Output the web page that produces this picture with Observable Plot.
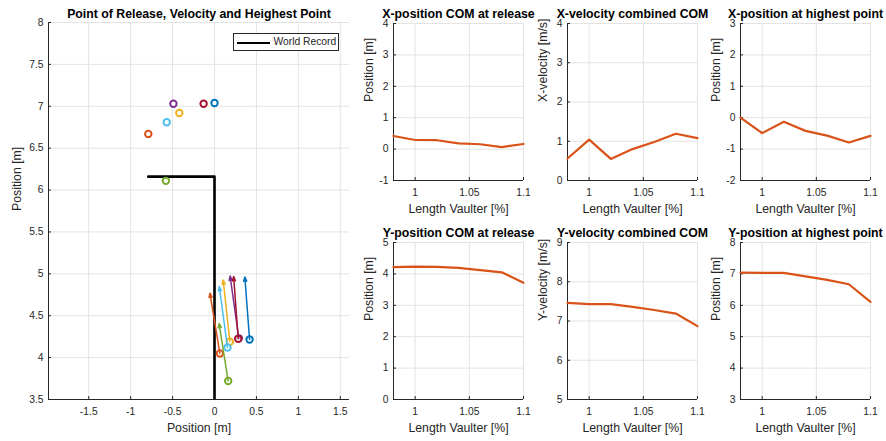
<!DOCTYPE html>
<html>
<head>
<meta charset="utf-8">
<script src="https://cdn.jsdelivr.net/npm/d3@7"></script>
<script src="https://cdn.jsdelivr.net/npm/@observablehq/plot@0.6"></script>
<style>
  html, body { margin: 0; padding: 0; background: #ffffff; }
  #fig { position: relative; width: 886px; height: 441px; overflow: hidden; background: #fff; font-family: "Liberation Sans", Arial, Helvetica, sans-serif; }
  #fig svg { position: absolute; overflow: visible; }
  .legend { position: absolute; border: 1px solid #262626; background: #fff; box-sizing: border-box; font-size: 10.3px; color: #262626; }
</style>
</head>
<body>
<div id="fig"></div>
<script>
// ---------- data ----------
const lengths = [0.98, 1.0, 1.02, 1.04, 1.06, 1.08, 1.1];
const seriesColors = ["#0072BD", "#7E2F8E", "#A2142F", "#EDB120", "#4DBEEE", "#D95319", "#77AC30"];
const xRelease = [0.418, 0.29, 0.283, 0.183, 0.155, 0.064, 0.163];
const yRelease = [4.216, 4.23, 4.224, 4.19, 4.12, 4.05, 3.72];
const xVelocity = [0.56, 1.04, 0.55, 0.80, 0.98, 1.19, 1.08];
const yVelocity = [7.46, 7.43, 7.43, 7.36, 7.28, 7.19, 6.87];
const xHighest = [0.0, -0.49, -0.13, -0.42, -0.57, -0.79, -0.58];
const yHighest = [7.04, 7.03, 7.03, 6.92, 6.81, 6.67, 6.11];
const quiverScale = 0.1;
const worldRecordX = [-0.79, 0, 0];
const worldRecordY = [6.16, 6.16, 3.5];
const worldRecordLabel = "World Record";

const leftXTicks = [-1.5, -1, -0.5, 0, 0.5, 1, 1.5];
const leftYTicks = [3.5, 4, 4.5, 5, 5.5, 6, 6.5, 7, 7.5, 8];
const leftXDomain = [-1.98, 1.61];
const leftYDomain = [3.5, 8];
const lengthTicks = [1, 1.05, 1.1];
const lengthDomain = [0.98, 1.1];

// ---------- styles ----------
const gridColor = "#e3e3e3";
const axisColor = "#262626";
const tickFont = 10.3, labelFont = 12.3, titleFont = 12.3;
const fmt = d => String(d);
const fig = document.getElementById("fig");
const baseStyle = { fontFamily: "'Liberation Sans', Arial, Helvetica, sans-serif", fontSize: tickFont + "px", color: "#262626", background: "transparent", overflow: "visible" };

function place(svg, left, top) {
  svg.style.left = left + "px";
  svg.style.top = top + "px";
  fig.appendChild(svg);
}

function axesMarks(xTicks, yTicks, xDom, yDom, xPad, yPad) {
  return [
    Plot.gridX(xTicks, { stroke: gridColor, strokeOpacity: 1 }),
    Plot.gridY(yTicks, { stroke: gridColor, strokeOpacity: 1 }),
    Plot.axisX(xTicks, { tickSize: 0, tickPadding: xPad, tickFormat: fmt, label: null, fontSize: tickFont, fill: axisColor }),
    Plot.axisY(yTicks, { tickSize: 0, tickPadding: yPad, tickFormat: fmt, label: null, fontSize: tickFont, fill: axisColor }),
    Plot.axisX(xTicks, { anchor: "bottom", tickSize: -3, tickFormat: () => "", label: null, stroke: axisColor }),
    Plot.axisY(yTicks, { anchor: "left", tickSize: -3, tickFormat: () => "", label: null, stroke: axisColor }),
    Plot.ruleX([xDom[0]], { stroke: axisColor, strokeWidth: 1 }),
    Plot.ruleY([yDom[0]], { stroke: axisColor, strokeWidth: 1 })
  ];
}

// ---------- left plot ----------
const pts = lengths.map((l, i) => ({
  l, c: seriesColors[i],
  xr: xRelease[i], yr: yRelease[i],
  xt: xRelease[i] - quiverScale * xVelocity[i],
  yt: yRelease[i] + quiverScale * yVelocity[i],
  xh: xHighest[i], yh: yHighest[i]
}));
const wr = worldRecordX.map((x, i) => ({ x, y: worldRecordY[i] }));

const leftPlot = Plot.plot({
  width: 360, height: 441,
  marginLeft: 48, marginRight: 11, marginTop: 22, marginBottom: 42,
  x: { domain: leftXDomain },
  y: { domain: leftYDomain },
  style: baseStyle,
  marks: [
    ...axesMarks(leftXTicks, leftYTicks, leftXDomain, leftYDomain, 8.5, 5),
    Plot.line(wr, { x: "x", y: "y", stroke: "#000", strokeWidth: 2.6, clip: true }),
    Plot.dot(pts, { x: "xh", y: "yh", r: 3.2, stroke: "c", fill: "#fff", strokeWidth: 2 }),
    Plot.dot(pts, { x: "xr", y: "yr", r: 3.2, stroke: "c", fill: "#fff", strokeWidth: 2 }),
    Plot.arrow(pts, { x1: "xr", y1: "yr", x2: "xt", y2: "yt", stroke: "c", strokeWidth: 1.5, headLength: 4.5, headAngle: 40 }),
    Plot.text(["Point of Release, Velocity and Heighest Point"], { frameAnchor: "top", dy: -8, fontWeight: "bold", fontSize: titleFont, fill: "#000", lineAnchor: "middle" }),
    Plot.text(["Position [m]"], { frameAnchor: "bottom", dy: 29, fontSize: labelFont, fill: axisColor, lineAnchor: "middle" }),
    Plot.text(["Position [m]"], { frameAnchor: "left", dx: -31, rotate: -90, fontSize: labelFont, fill: axisColor, lineAnchor: "middle" })
  ]
});
place(leftPlot, 0, 0);

// legend
const legend = document.createElement("div");
legend.className = "legend";
legend.style.left = "232.5px"; legend.style.top = "33px";
legend.style.width = "106px"; legend.style.height = "18px";
legend.innerHTML = `<span style="position:absolute;left:3.5px;top:7.5px;width:33px;height:2.6px;background:#000"></span><span style="position:absolute;left:40px;top:2px;line-height:12px;white-space:nowrap">${worldRecordLabel}</span>`;
fig.appendChild(legend);

// ---------- small panels ----------
const lineColor = "#D95319";
function panel(values, opt) {
  const mL = 46, mR = 16, mT = 25, mB = 42;
  const fw = 130, fh = 157;
  const data = lengths.map((l, i) => ({ l, v: values[i] }));
  const svg = Plot.plot({
    width: mL + fw + mR, height: mT + fh + mB,
    marginLeft: mL, marginRight: mR, marginTop: mT, marginBottom: mB,
    x: { domain: lengthDomain },
    y: { domain: opt.yDomain },
    style: baseStyle,
    marks: [
      ...axesMarks(lengthTicks, opt.yTicks, lengthDomain, opt.yDomain, 8.5, 5),
      Plot.line(data, { x: "l", y: "v", stroke: lineColor, strokeWidth: 2.2 }),
      Plot.text([opt.title], { frameAnchor: "top", dy: -9.3, fontWeight: "bold", fontSize: titleFont, fill: "#000", lineAnchor: "middle" }),
      Plot.text(["Length Vaulter [%]"], { frameAnchor: "bottom", dy: 29, fontSize: labelFont, fill: axisColor, lineAnchor: "middle" }),
      Plot.text([opt.ylabel], { frameAnchor: "left", dx: -24.5, rotate: -90, fontSize: labelFont, fill: axisColor, lineAnchor: "middle" })
    ]
  });
  place(svg, opt.fl - mL, opt.ft - mT);
}

const topRow = 23.3, bottomRow = 241.7;
const col = [393.3, 566.7, 740];

panel(xRelease, { title: "X-position COM at release", ylabel: "Position [m]", yDomain: [-1, 4], yTicks: [-1, 0, 1, 2, 3, 4], fl: col[0], ft: topRow });
panel(xVelocity, { title: "X-velocity combined COM", ylabel: "X-velocity [m/s]", yDomain: [0, 4], yTicks: [0, 1, 2, 3, 4], fl: col[1], ft: topRow });
panel(xHighest, { title: "X-position at highest point", ylabel: "Position [m]", yDomain: [-2, 3], yTicks: [-2, -1, 0, 1, 2, 3], fl: col[2], ft: topRow });
panel(yRelease, { title: "Y-position COM at release", ylabel: "Position [m]", yDomain: [0, 5], yTicks: [0, 1, 2, 3, 4, 5], fl: col[0], ft: bottomRow });
panel(yVelocity, { title: "Y-velocity combined COM", ylabel: "Y-velocity [m/s]", yDomain: [5, 9], yTicks: [5, 6, 7, 8, 9], fl: col[1], ft: bottomRow });
panel(yHighest, { title: "Y-position at highest point", ylabel: "Position [m]", yDomain: [3, 8], yTicks: [3, 4, 5, 6, 7, 8], fl: col[2], ft: bottomRow });
</script>
</body>
</html>
